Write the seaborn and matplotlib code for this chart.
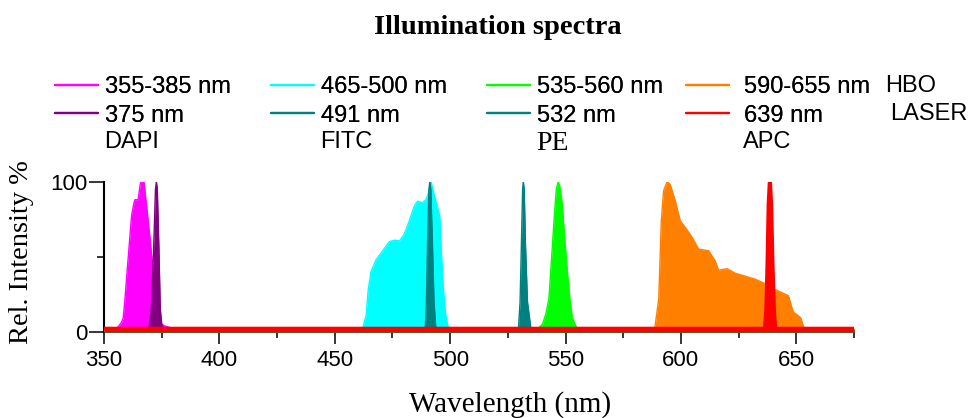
import numpy as np
import pandas as pd
import matplotlib
matplotlib.use("Agg")
import matplotlib.pyplot as plt
import seaborn as sns

# ===============================
# Data (wavelength nm, relative intensity %)
# ===============================
dapi_hbo_wl = [350, 354, 356, 357.5, 358.3, 359, 360, 361.2, 362, 363, 363.4, 364.8, 365.4, 365.9,
               367.3, 368.4, 369.9, 371.3, 372.5, 373.5, 374.5, 376, 378, 380, 382, 675]
dapi_hbo_int = [1.5, 2, 3, 6, 9, 20, 40, 63, 78, 86, 88, 88, 95, 100,
                100, 85, 63, 40, 25, 12, 6, 4, 3, 2, 1.5, 1.5]

dapi_laser_wl = [350, 369.5, 370.5, 371.5, 372.3, 372.7, 373.1, 373.8, 374.4, 375.2, 675]
dapi_laser_int = [1.5, 2, 15, 55, 95, 100, 95, 55, 15, 2, 1.5]

fitc_hbo_wl = [350, 456, 460, 462.1, 463.6, 464.5, 465.7, 467.9, 470.8, 473.6, 476, 478, 480.1,
               482.3, 484.5, 485.9, 488, 489.5, 490.5, 491.7, 493, 494.5, 495.5, 496.3, 497,
               498, 499, 500.5, 675]
fitc_hbo_int = [1.5, 1.5, 2, 2.5, 11, 28, 40, 48, 54, 60, 61, 60.5, 65,
                74, 84, 87, 86, 88, 92, 100, 92, 83, 77, 50, 30,
                12, 4, 1.5, 1.5]

fitc_laser_wl = [350, 489.2, 489.7, 490.2, 490.8, 491.2, 491.6, 492.3, 493, 493.8, 675]
fitc_laser_int = [1.5, 2, 20, 60, 95, 100, 95, 60, 20, 2, 1.5]

pe_hbo_wl = [350, 538, 540, 541.5, 542.8, 544, 545, 546, 546.8, 547.5, 548.6, 549.5, 550.8,
             552, 553, 555, 675]
pe_hbo_int = [1.5, 2, 5, 12, 22, 50, 74, 95, 100, 97, 85, 65, 40, 20, 9, 2, 1.5]

pe_laser_wl = [350, 529.6, 530.3, 530.9, 531.4, 531.7, 532.1, 532.6, 533.5, 535, 675]
pe_laser_int = [1.5, 2, 20, 60, 95, 100, 95, 60, 20, 2, 1.5]

apc_hbo_wl = [350, 588.6, 590.4, 591.5, 592.5, 594, 595.4, 597.6, 599.7, 602.6, 604.8, 607.7,
              612, 614.9, 616.3, 620, 623.5, 627.9, 632.2, 636.5, 642.3, 646.6, 647.7, 648.7,
              650.6, 652, 653.5, 675]
apc_hbo_int = [1.5, 1.5, 22, 74, 94, 100, 98, 87, 74, 68, 63, 55,
               54, 47, 41, 42, 39, 37, 35, 32, 27, 24, 18, 13,
               11, 9, 1.5, 1.5]

apc_laser_wl = [350, 636.2, 636.8, 637.3, 637.8, 638.3, 638.8, 639.3, 639.9, 640.5, 641.1, 675]
apc_laser_int = [2.3, 2.3, 15, 45, 85, 100, 100, 85, 45, 15, 2.3, 2.3]

series_labels = ["355-385 nm", "375 nm", "465-500 nm", "491 nm",
                 "535-560 nm", "532 nm", "590-655 nm", "639 nm"]
dye_names = ["DAPI", "FITC", "PE", "APC"]

series = [
    (dapi_hbo_wl, dapi_hbo_int, "#FF00FF"),
    (dapi_laser_wl, dapi_laser_int, "#800080"),
    (fitc_hbo_wl, fitc_hbo_int, "#00FFFF"),
    (fitc_laser_wl, fitc_laser_int, "#008080"),
    (pe_hbo_wl, pe_hbo_int, "#00FF00"),
    (pe_laser_wl, pe_laser_int, "#008080"),
    (apc_hbo_wl, apc_hbo_int, "#FF8000"),
    (apc_laser_wl, apc_laser_int, "#FF0000"),
]

# ===============================
# Figure
# ===============================
sns.set_style("ticks")
plt.rcParams['font.family'] = ['Liberation Sans', 'DejaVu Sans']
plt.rcParams.update({
    'text.color': 'black', 'axes.labelcolor': 'black', 'axes.edgecolor': 'black',
    'xtick.color': 'black', 'ytick.color': 'black',
})
serif = ['Liberation Serif', 'DejaVu Serif']

fig = plt.figure(figsize=(9.7, 4.18), dpi=100)
ax = fig.add_axes([104 / 970, 1 - 331.7 / 418, 750 / 970, 150 / 418])

handles = []
for i, (wl, inten, col) in enumerate(series):
    df = pd.DataFrame({"wl": wl, "int": inten})
    ax.fill_between(df["wl"], 0, df["int"], color=col, lw=0, zorder=2 + i)
    lw = 2.2 if i == len(series) - 1 else 1.0
    sns.lineplot(data=df, x="wl", y="int", color=col, lw=lw, ax=ax, zorder=2 + i,
                 legend=False, estimator=None, sort=False)
    handles.append(plt.Line2D([], [], color=col, lw=1.6))

ax.set_xlim(350, 675)
ax.set_ylim(0, 100)
ax.set_xticks(np.arange(350, 676, 50))
ax.set_xticks(np.arange(375, 676, 50), minor=True)
ax.set_yticks([0, 100])
ax.set_yticks([50], minor=True)
ax.tick_params(axis='x', which='major', length=8.5, width=1.1, labelsize=16, pad=5)
ax.tick_params(axis='x', which='minor', length=4, width=1.1)
ax.tick_params(axis='y', which='major', length=11, width=1.1, labelsize=16, pad=1)
ax.tick_params(axis='y', which='minor', length=5, width=1.1)
for s in ["left", "bottom"]:
    ax.spines[s].set_linewidth(1.5)
sns.despine(ax=ax)

ax.set_xlabel("Wavelength (nm)", family=serif, fontsize=21)
ax.xaxis.set_label_coords((510 - 104) / 750, (331.7 - 405) / 150)
ax.xaxis.label.set_va("center")
ax.set_ylabel("Rel. Intensity %", family=serif, fontsize=20.5)
ax.yaxis.set_label_coords((22 - 104) / 750, (331.7 - 252) / 150)
ax.yaxis.label.set_va("center")

fig.text(498 / 970, 1 - 28 / 418, "Illumination spectra", family=serif, fontsize=20.5,
         fontweight='bold', ha='center', va='center')

# legends: one per dye, two entries each
col_x = [55, 271, 487, 686]
text_pad = [0.3, 0.3, 0.3, 0.65]
for c in range(4):
    leg = fig.legend(handles[2 * c:2 * c + 2], series_labels[2 * c:2 * c + 2],
                     loc='upper left', bbox_to_anchor=(col_x[c] / 970, 1 - 76 / 418),
                     frameon=False, fontsize=17, handlelength=1.8,
                     handletextpad=text_pad[c], borderpad=0, borderaxespad=0,
                     labelspacing=0.28)
    fig.add_artist(leg)

dye_x = [104, 320, 536, 743]
for c, name in enumerate(dye_names):
    if name == "PE":
        fig.text(dye_x[c] / 970, 1 - 143 / 418, name, family=serif, fontsize=20, va='center')
    else:
        fig.text(dye_x[c] / 970, 1 - 142 / 418, name, fontsize=17, va='center')
fig.text(885 / 970, 1 - 86 / 418, "HBO", fontsize=17, va='center')
fig.text(890 / 970, 1 - 114 / 418, "LASER", fontsize=17, va='center')

fig.savefig("out.png", dpi=100)
